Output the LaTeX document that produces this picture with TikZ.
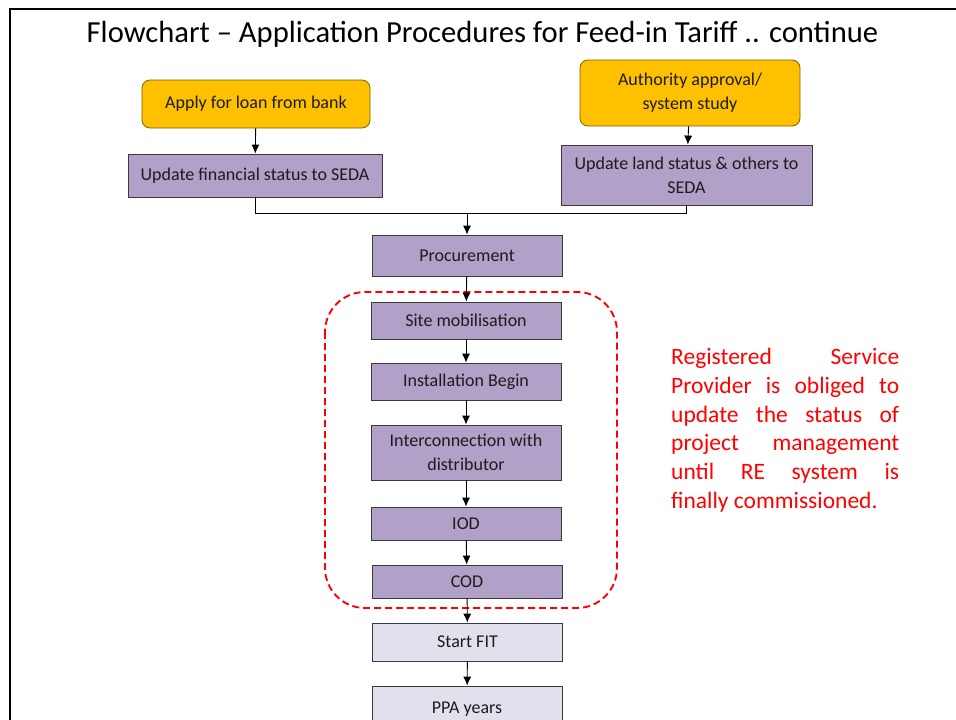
\documentclass[tikz,border=0pt]{standalone}
\usepackage{fontspec}
\setmainfont{Carlito}
\usetikzlibrary{arrows.meta}
\definecolor{gold}{HTML}{FFC000}
\definecolor{goldline}{HTML}{7F6000}
\definecolor{lilac}{HTML}{B1A0C7}
\definecolor{paleLilac}{HTML}{E4DFEC}
\definecolor{boxline}{HTML}{3A3A3A}
\definecolor{boxtext}{HTML}{1C1C1C}

\begin{document}
\begin{tikzpicture}[x=1pt, y=-1pt,
  every node/.style={text=boxtext, font=\fontsize{18}{24}\selectfont, align=center, inner sep=0pt},
  goldbox/.style={draw=goldline, fill=gold, rounded corners=8pt, line width=0.8pt},
  stepbox/.style={draw=boxline, fill=lilac, line width=0.8pt, minimum width=190pt},
  endbox/.style={draw=boxline, fill=paleLilac, line width=0.8pt, minimum width=190pt},
  flow/.style={-{Latex[length=9pt,width=8pt]}, line width=0.9pt}]
\useasboundingbox (0,0) rectangle (956,720);
\clip (0,0) rectangle (956,720);
% slide frame
\draw[line width=2pt] (10,725) -- (10,9) -- (960,9);
\node[text=black, font=\fontsize{30.6}{36}\selectfont, anchor=base] (title) at (482.5,42)
  {Flowchart -- Application Procedures for Feed-in Tariff .. continue};

% two starting branches
\node[goldbox, minimum width=228pt, minimum height=48pt] (loan) at (256,104) {Apply for loan from bank};
\node[stepbox, minimum width=254pt, minimum height=43pt] (finance) at (255,175.5) {Update financial status to SEDA};
\node[goldbox, minimum width=220pt, minimum height=66pt] (approval) at (690,93) {Authority approval/\\system study};
\node[stepbox, minimum width=251pt, minimum height=60pt] (land) at (686.5,175) {Update land status \& others to\\SEDA};

% main column
\node[stepbox, minimum height=41pt] (procure) at (467,255.5) {Procurement};
\node[stepbox, minimum height=37pt] (site) at (466,320.5) {Site mobilisation};
\node[stepbox, minimum height=37pt] (install) at (466,381.5) {Installation Begin};
\node[stepbox, minimum height=55pt] (grid) at (466,452.5) {Interconnection with\\distributor};
\node[stepbox, minimum height=33pt] (iod) at (466,523.5) {IOD};
\node[stepbox, minimum height=33pt] (cod) at (467,581.5) {COD};
\node[endbox, minimum height=38pt] (fit) at (467.5,642) {Start FIT};
\node[endbox, minimum height=44pt, text depth=0pt] (ppa) at (467,708) {PPA years};

% red dashed group
\draw[red, line width=1.9pt, dash pattern=on 7pt off 4pt, rounded corners=40pt] (325,292) rectangle (617,608);
\node[text=red, font=\fontsize{23.5}{28.8}\selectfont, text width=228pt, align=justify, anchor=north west] (note) at (671,348)
  {Registered Service\linebreak Provider is obliged to\linebreak update the status of\linebreak project management\linebreak until RE system is\linebreak finally commissioned.};

% connectors
\draw[flow] (loan) -- (finance);
\draw[flow] (approval) -- (land);
\coordinate (merge) at (467,213);
\draw[line width=0.8pt] (finance.south) -- (finance.south |- merge) -- (land.south |- merge) -- (land.south);
\draw[flow] (merge) -- (procure.north);
\foreach \a/\b in {procure/site, site/install, install/grid, grid/iod, iod/cod, cod/fit, fit/ppa}
  \draw[flow] (\a) -- (\b);
\end{tikzpicture}
\end{document}
